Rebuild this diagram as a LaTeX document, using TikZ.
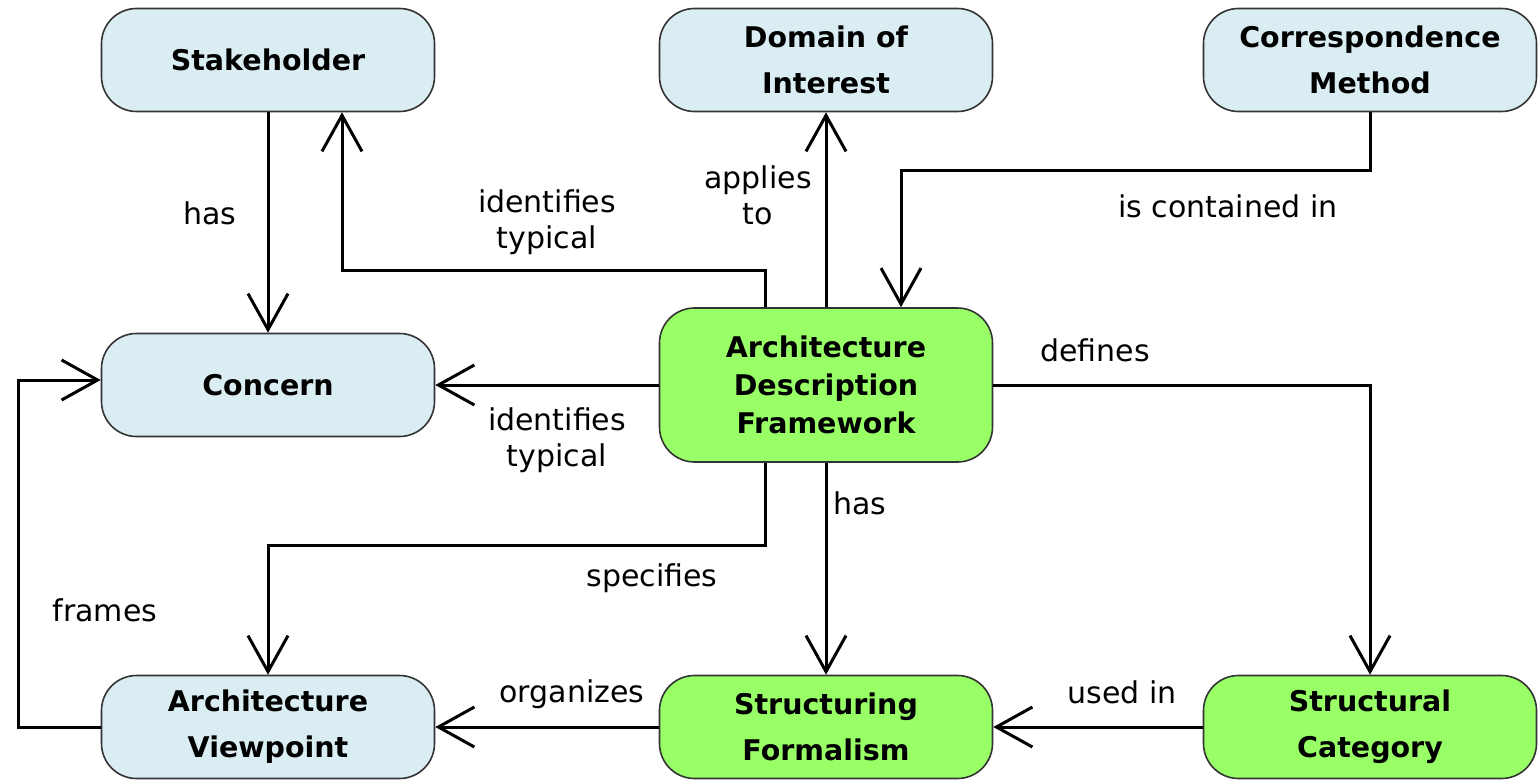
\documentclass[tikz,border=0pt]{standalone}
\usepackage{fontspec}
\setmainfont{DejaVu Sans}
\usetikzlibrary{arrows.meta}
\definecolor{nblue}{HTML}{DAEDF3}
\definecolor{ngreen}{HTML}{99FF66}
\definecolor{nborder}{HTML}{333333}
\tikzset{
  box/.style={draw=nborder, line width=1.6pt, rounded corners=35pt, minimum width=333pt, minimum height=103pt, inner sep=0pt, align=center, font=\fontsize{28.5}{46}\selectfont\bfseries},
  bluebox/.style={box, fill=nblue},
  greenbox/.style={box, fill=ngreen},
  tallbox/.style={greenbox, minimum height=154pt, font=\fontsize{28.5}{38}\selectfont\bfseries},
  arr/.style={line width=3pt, -{Straight Barb[length=36pt,width=40pt,line width=3pt]}},
  lbl/.style={font=\fontsize{30}{36}\selectfont, align=center, inner sep=0pt}
}
\begin{document}
\begin{tikzpicture}[x=1pt,y=-1pt]
\useasboundingbox (0,0) rectangle (1539,781);
\node[bluebox] (stake) at (268,60) {Stakeholder};
\node[bluebox] (doi) at (826,60) {Domain of\\Interest};
\node[bluebox] (corr) at (1370,60) {Correspondence\\Method};
\node[bluebox] (concern) at (268,385) {Concern};
\node[tallbox] (adf) at (826,385) {Architecture\\Description\\Framework};
\node[bluebox] (avp) at (268,727) {Architecture\\Viewpoint};
\node[greenbox] (sf) at (826,727) {Structuring\\Formalism};
\node[greenbox] (sc) at (1370,727) {Structural\\Category};

\coordinate (w1) at (765,270);
\coordinate (w2) at (901,170);
\coordinate (w3) at (765,545);
\coordinate (w4) at (18,727);
\coordinate (w5) at (18,380);

% edges
\draw[arr] (stake.south) -- (concern.north);
\draw[arr] (adf.north -| w1) -- (w1) -| ([xshift=74pt]stake.south);
\draw[arr] (adf.north) -- (doi.south);
\draw[arr] (corr.south) |- (w2) -- (adf.north -| w2);
\draw[arr] (adf.west) -- (concern.east);
\draw[arr] (adf.east) -| (sc.north);
\draw[arr] (adf.south) -- (sf.north);
\draw[arr] (adf.south -| w3) -- (w3) -| (avp.north);
\draw[arr] (sc.west) -- (sf.east);
\draw[arr] (sf.west) -- (avp.east);
\draw[arr] (avp.west) -- (w4) -- (w5) -- (concern.west |- w5);

% labels
\node[lbl] (l1) at (210,213) {has};
\node[lbl] (l2) at (547,222) {identifies\\typical};
\node[lbl] (l3) at (758,195) {applies\\to};
\node[lbl] (l4) at (1228,206) {is contained in};
\node[lbl] (l5) at (557,440) {identifies\\typical};
\node[lbl] (l6) at (1095,350) {defines};
\node[lbl] (l7) at (860,503) {has};
\node[lbl] (l8) at (652,578) {specifies};
\node[lbl] (l9) at (1122,692) {used in};
\node[lbl] (l10) at (572,694) {organizes};
\node[lbl] (l11) at (105,610) {frames};
\end{tikzpicture}
\end{document}
